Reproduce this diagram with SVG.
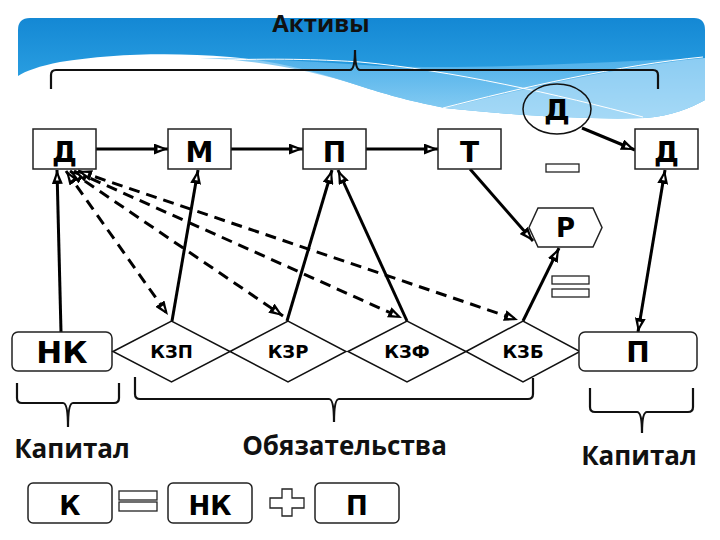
<svg xmlns="http://www.w3.org/2000/svg" width="720" height="540" viewBox="0 0 720 540">
<style>
.box{fill:#fff;stroke:#222;stroke-width:1.5}
.dia{fill:#fff;stroke:#111;stroke-width:1.5}
.n{font-family:"DejaVu Sans",Verdana,sans-serif;font-weight:bold;fill:#000;text-anchor:middle}
.lab{font-family:"Open Sans","DejaVu Sans",sans-serif;font-weight:bold;fill:#111;text-anchor:middle}
.ln{stroke:#000;stroke-width:3;fill:none}
.dash{stroke:#000;stroke-width:3;fill:none;stroke-dasharray:11 7}
.br{stroke:#111;stroke-width:2.2;fill:none}
.sym{fill:#fff;stroke:#222;stroke-width:1.3}
</style>
<defs>
<linearGradient id="bg" x1="0" y1="0" x2="0" y2="1">
<stop offset="0" stop-color="#1488d4"/>
<stop offset="1" stop-color="#38ade9"/>
</linearGradient>
<linearGradient id="lb" x1="0" y1="0" x2="0" y2="1">
<stop offset="0" stop-color="#5cb8ee"/>
<stop offset="1" stop-color="#a9dbf7"/>
</linearGradient>
<marker id="ah" viewBox="0 0 14 11" refX="14" refY="5.5" markerWidth="14" markerHeight="11" markerUnits="userSpaceOnUse" orient="auto-start-reverse">
<path d="M0,0 L14,5.5 L0,11 Z" fill="#000"/>
<path d="M3.5,4 L8.5,5.5 L3.5,7 Z" fill="#fff"/>
</marker>
</defs>

<g id="banner">
<path d="M18,30 Q18,18 30,18 H694 Q705,18 705,30 V100 C690,108 672,116 645,118 C580,120 500,114 445,108 C405,100 385,94 360,86 C310,70 270,60 230,57 C170,52 110,54 60,62 C40,66 25,71 18,76 Z" fill="url(#bg)"/>
<path d="M200,58 C260,58 320,62 380,66 C480,70 600,62 705,58 V100 C690,108 672,116 645,118 C580,120 500,114 445,108 C405,100 385,94 360,86 C310,70 260,60 200,58 Z" fill="url(#lb)" opacity="0.75"/>
<path d="M445,108 C520,90 620,66 705,58 V100 C690,108 672,116 645,118 C580,120 500,114 445,108 Z" fill="#b5e0f8" opacity="0.6"/>
<path d="M227,60 C280,58 330,60 360,62 C450,70 560,95 643,117" stroke="#fff" stroke-width="1" fill="none"/>
<path d="M443,108 C520,88 620,65 703,57" stroke="#fff" stroke-width="1" fill="none"/>
</g>

<g id="brackets">
<path class="br" d="M51,89 V75 Q51,70 56,70 H350 Q355,70 355,50 Q355,70 360,70 H653 Q658,70 658,75 V89"/>
<path class="br" d="M17,383 V398 Q17,403 22,403 H63 Q68,403 68,427 Q68,403 73,403 H114 Q119,403 119,398 V383"/>
<path class="br" d="M135,377 V394 Q135,399 140,399 H329 Q334,399 334,422 Q334,399 339,399 H528 Q533,399 533,394 V378"/>
<path class="br" d="M590,388 V407 Q590,412 595,412 H637 Q642,412 642,433 Q642,412 647,412 H688 Q693,412 693,407 V388"/>
</g>

<g id="labels">
<text class="lab" x="321" y="32" font-size="24">Активы</text>
<text class="lab" x="72" y="458" font-size="26">Капитал</text>
<text class="lab" x="344.5" y="455" font-size="26">Обязательства</text>
<text class="lab" x="639" y="465" font-size="26">Капитал</text>
</g>

<g id="connectors">
<line class="ln" x1="96" y1="149" x2="168" y2="149" marker-end="url(#ah)"/>
<line class="ln" x1="231" y1="149" x2="303" y2="149" marker-end="url(#ah)"/>
<line class="ln" x1="366" y1="149" x2="438" y2="149" marker-end="url(#ah)"/>
<line class="ln" x1="582" y1="128" x2="635" y2="150" marker-end="url(#ah)"/>
<line class="ln" x1="470" y1="169" x2="533" y2="241" marker-end="url(#ah)"/>
<line class="ln" x1="523" y1="321" x2="559" y2="248" marker-end="url(#ah)"/>
<line class="ln" x1="638" y1="332" x2="665" y2="170" marker-start="url(#ah)" marker-end="url(#ah)"/>
<line class="ln" x1="61" y1="332" x2="57" y2="170" marker-end="url(#ah)"/>
<line class="ln" x1="172" y1="321" x2="198" y2="170" marker-end="url(#ah)"/>
<line class="ln" x1="287" y1="321" x2="332" y2="170" marker-end="url(#ah)"/>
<line class="ln" x1="407" y1="321" x2="338" y2="170" marker-end="url(#ah)"/>
<line class="dash" x1="66" y1="171" x2="168" y2="315" marker-start="url(#ah)" marker-end="url(#ah)"/>
<line class="dash" x1="70" y1="171" x2="283" y2="316" marker-start="url(#ah)" marker-end="url(#ah)"/>
<line class="dash" x1="74" y1="171" x2="402" y2="318" marker-start="url(#ah)" marker-end="url(#ah)"/>
<line class="dash" x1="78" y1="171" x2="518" y2="320" marker-start="url(#ah)" marker-end="url(#ah)"/>
</g>

<g id="node-D1"><rect class="box" x="33" y="129" width="63" height="40"/><text class="n" x="64.5" y="162" font-size="28">Д</text></g>
<g id="node-M"><rect class="box" x="168" y="129" width="63" height="40"/><text class="n" x="199.5" y="162" font-size="28">М</text></g>
<g id="node-P1"><rect class="box" x="303" y="129" width="63" height="40"/><text class="n" x="334.5" y="162" font-size="28">П</text></g>
<g id="node-T"><rect class="box" x="438" y="129" width="63" height="40"/><text class="n" x="469.5" y="162" font-size="28">Т</text></g>
<g id="node-D2"><rect class="box" x="635" y="129" width="63" height="40"/><text class="n" x="666.5" y="162" font-size="28">Д</text></g>
<g id="node-Dell"><ellipse cx="557" cy="109" rx="34" ry="25" fill="none" stroke="#111" stroke-width="1.5"/><text class="n" x="557" y="120" font-size="29">Д</text></g>
<g id="minus"><rect class="sym" x="546" y="164" width="33" height="8"/></g>
<g id="node-R"><path class="box" d="M529,227.5 L538,208 H593 L602,227.5 L593,247 H538 Z"/><text class="n" x="565.5" y="237" font-size="26">Р</text></g>
<g id="equals1"><rect class="sym" x="552" y="276" width="37" height="8"/><rect class="sym" x="552" y="289" width="37" height="8"/></g>

<g id="node-NK"><rect class="box" x="12" y="332" width="100" height="39" rx="6"/><text class="n" x="62" y="362.5" font-size="31">НК</text></g>
<g id="node-KZP"><path class="dia" d="M113,351.5 L171.5,321 L230,351.5 L171.5,382 Z"/><text class="n" x="171.5" y="358" font-size="18">КЗП</text></g>
<g id="node-KZR"><path class="dia" d="M230,351.5 L288,321 L346,351.5 L288,382 Z"/><text class="n" x="288" y="358" font-size="18">КЗР</text></g>
<g id="node-KZF"><path class="dia" d="M348,351.5 L407,321 L466,351.5 L407,382 Z"/><text class="n" x="407" y="358" font-size="18">КЗФ</text></g>
<g id="node-KZB"><path class="dia" d="M466,351.5 L523,321 L580,351.5 L523,382 Z"/><text class="n" x="523" y="358" font-size="18">КЗБ</text></g>
<g id="node-P2"><rect class="box" x="579" y="332" width="118" height="39" rx="6"/><text class="n" x="638" y="362" font-size="28">П</text></g>

<g id="eq-K"><rect class="box" x="28" y="483" width="84" height="40" rx="5"/><text class="n" x="70" y="515" font-size="26">К</text></g>
<g id="eq-equals"><rect class="sym" x="119" y="491" width="38" height="9"/><rect class="sym" x="119" y="502" width="38" height="9"/></g>
<g id="eq-NK"><rect class="box" x="168" y="483" width="84" height="40" rx="5"/><text class="n" x="210" y="515" font-size="26">НК</text></g>
<g id="eq-plus"><path class="sym" d="M282,489 H292 V498 H304 V508 H292 V516 H282 V508 H270 V498 H282 Z"/></g>
<g id="eq-P"><rect class="box" x="315" y="483" width="84" height="40" rx="5"/><text class="n" x="357" y="515" font-size="26">П</text></g>
</svg>
